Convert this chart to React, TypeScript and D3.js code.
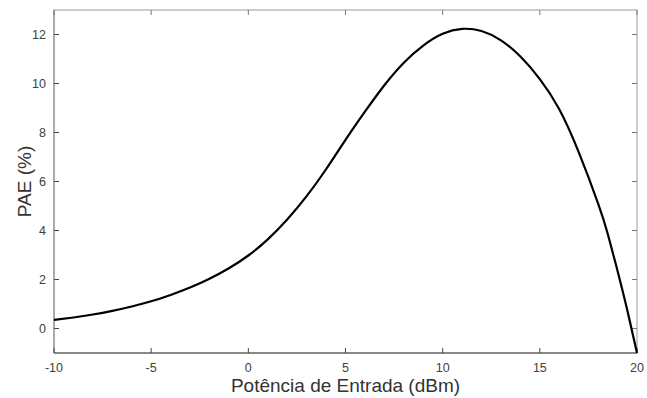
import { useRef, useEffect } from "react";
import * as d3 from "d3";

const WIDTH = 647;
const HEIGHT = 398;
const M = { left: 54, right: 10, top: 10, bottom: 45 };

// curve
const pin = [-10, -9, -8, -7, -6, -5, -4, -3, -2, -1, 0, 1, 2, 3, 4, 5, 6, 7, 8, 9, 10, 11, 12, 13, 14, 15, 16, 17, 18, 18.5, 19, 19.5, 20];
const pae = [0.35, 0.45, 0.57, 0.72, 0.9, 1.11, 1.37, 1.67, 2.03, 2.46, 2.98, 3.64, 4.45, 5.4, 6.5, 7.7, 8.85, 9.93, 10.85, 11.55, 12.03, 12.23, 12.14, 11.76, 11.1, 10.18, 8.95, 7.2, 5.1, 3.85, 2.35, 0.75, -1];

const xTicks = [-10, -5, 0, 5, 10, 15, 20];
const yTicks = [0, 2, 4, 6, 8, 10, 12];

export default function App() {
  const svgRef = useRef<SVGSVGElement>(null);

  useEffect(() => {
    const svg = d3.select(svgRef.current);
    svg.selectAll("*").remove();

    const x = d3.scaleLinear().domain([-10, 20]).range([M.left, WIDTH - M.right]);
    const y = d3.scaleLinear().domain([-1, 13]).range([HEIGHT - M.bottom, M.top]);
    const font = "Liberation Sans, Arial, sans-serif";

    // box
    svg.append("rect")
      .attr("x", x(-10)).attr("y", y(13))
      .attr("width", x(20) - x(-10)).attr("height", y(-1) - y(13))
      .attr("fill", "#fff").attr("stroke", "#9a9a9a").attr("stroke-width", 1);

    svg.append("line")
      .attr("x1", x(-10)).attr("x2", x(20)).attr("y1", y(-1)).attr("y2", y(-1))
      .attr("stroke", "#444").attr("stroke-width", 1);
    svg.append("line")
      .attr("x1", x(-10)).attr("x2", x(-10)).attr("y1", y(-1)).attr("y2", y(13))
      .attr("stroke", "#888").attr("stroke-width", 1);

    // ticks inside, on all four sides
    const tl = 5;
    xTicks.forEach((t) => {
      svg.append("line").attr("x1", x(t)).attr("x2", x(t)).attr("y1", y(-1)).attr("y2", y(-1) - tl).attr("stroke", "#444");
      svg.append("line").attr("x1", x(t)).attr("x2", x(t)).attr("y1", y(13)).attr("y2", y(13) + tl).attr("stroke", "#777");
      svg.append("text")
        .attr("x", x(t)).attr("y", y(-1) + 19)
        .attr("text-anchor", "middle")
        .attr("font-family", font).attr("font-size", 12.5).attr("fill", "#404040")
        .text(t);
    });
    yTicks.forEach((t) => {
      svg.append("line").attr("x1", x(-10)).attr("x2", x(-10) + tl).attr("y1", y(t)).attr("y2", y(t)).attr("stroke", "#444");
      svg.append("line").attr("x1", x(20)).attr("x2", x(20) - tl).attr("y1", y(t)).attr("y2", y(t)).attr("stroke", "#777");
      svg.append("text")
        .attr("x", x(-10) - 8).attr("y", y(t) + 4.5)
        .attr("text-anchor", "end")
        .attr("font-family", font).attr("font-size", 12.5).attr("fill", "#404040")
        .text(t);
    });

    // curve
    const line = d3.line<number>()
      .x((_, i) => x(pin[i]))
      .y((d) => y(d))
      .curve(d3.curveNatural);

    svg.append("path")
      .datum(pae)
      .attr("d", line)
      .attr("fill", "none")
      .attr("stroke", "#000")
      .attr("stroke-width", 2.2);

    // axis labels
    svg.append("text")
      .attr("x", (x(-10) + x(20)) / 2).attr("y", 392)
      .attr("text-anchor", "middle")
      .attr("font-family", font).attr("font-size", 19).attr("fill", "#333")
      .text("Potência de Entrada (dBm)");

    svg.append("text")
      .attr("transform", `translate(31,${(y(-1) + y(13)) / 2}) rotate(-90)`)
      .attr("text-anchor", "middle")
      .attr("font-family", font).attr("font-size", 19).attr("fill", "#333")
      .text("PAE (%)");
  }, []);

  return (
    <svg
      ref={svgRef}
      width={WIDTH}
      height={HEIGHT}
      style={{ position: "absolute", left: 0, top: 0, background: "#fff" }}
    />
  );
}
